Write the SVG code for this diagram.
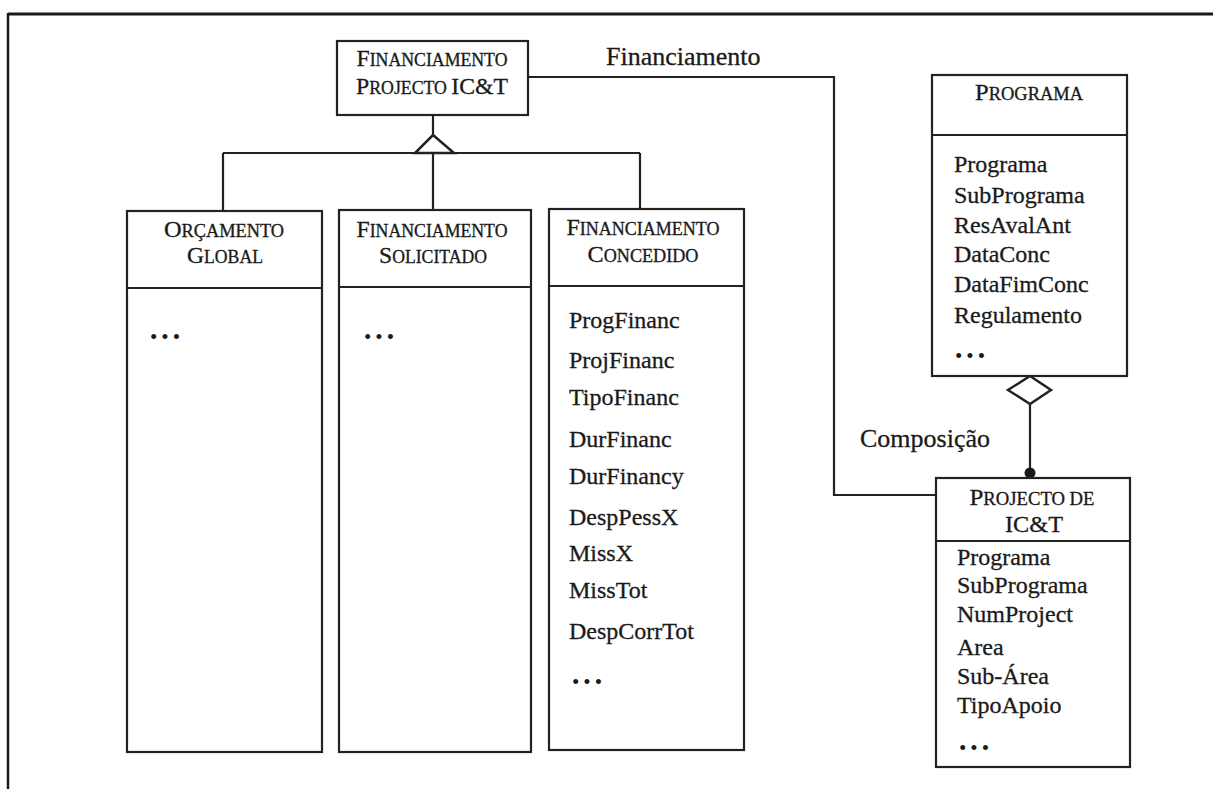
<svg xmlns="http://www.w3.org/2000/svg" width="1213" height="789" viewBox="0 0 1213 789">
<style>
.box{fill:#fff;stroke:#222;stroke-width:2.2}
.ln{fill:none;stroke:#222;stroke-width:2.2}
.t{font-family:"Liberation Serif","Times New Roman",serif;fill:#1a1a1a;stroke:#1a1a1a;stroke-width:0.3}
.attr{font-size:24px}
.lab{font-size:26px}
.big{font-size:24px}
.sm{font-size:18px}
.dots{font-family:"Liberation Serif",serif;font-size:21px;letter-spacing:4px;fill:#1a1a1a}
.ttl{text-anchor:middle}
</style>
<rect width="1213" height="789" fill="#fff"/>
<g id="frame">
<line x1="8" y1="14" x2="1213" y2="14" stroke="#1a1a1a" stroke-width="3"/>
<line x1="8" y1="13" x2="8" y2="789" stroke="#1a1a1a" stroke-width="2.5"/>
</g>
<g id="connectors">
<line class="ln" x1="433" y1="115" x2="433" y2="135"/>
<line class="ln" x1="223" y1="153" x2="640" y2="153"/>
<line class="ln" x1="223" y1="153" x2="223" y2="211"/>
<line class="ln" x1="433" y1="153" x2="433" y2="210"/>
<line class="ln" x1="640" y1="153" x2="640" y2="209"/>
<polygon points="433,135 454,153 415,153" fill="#fff" stroke="#222" stroke-width="2.5" stroke-linejoin="miter"/>
<polyline class="ln" points="528,77 834,77 834,495 936,495"/>
<text class="t lab" x="606" y="65">Financiamento</text>
<line class="ln" x1="1030" y1="404" x2="1030" y2="473"/>
<polygon points="1030,376 1051,390 1030,404 1008,390" fill="#fff" stroke="#222" stroke-width="2.5"/>
<circle cx="1030" cy="473" r="5.5" fill="#1a1a1a"/>
<text class="t lab" x="860" y="447">Composição</text>
</g>
<g id="node-financiamento-projecto">
<rect class="box" x="337" y="41" width="191" height="74"/>
<text class="t ttl" x="432" y="66" textLength="151" lengthAdjust="spacingAndGlyphs"><tspan class="big">F</tspan><tspan class="sm">INANCIAMENTO</tspan></text>
<text class="t ttl" x="432" y="94" textLength="152" lengthAdjust="spacingAndGlyphs"><tspan class="big">P</tspan><tspan class="sm">ROJECTO </tspan><tspan class="big">IC&amp;T</tspan></text>
</g>
<g id="node-orcamento-global">
<rect class="box" x="127" y="211" width="195" height="541"/>
<line class="ln" x1="127" y1="288" x2="322" y2="288"/>
<text class="t ttl" x="224" y="237" textLength="120" lengthAdjust="spacingAndGlyphs"><tspan class="big">O</tspan><tspan class="sm">RÇAMENTO</tspan></text>
<text class="t ttl" x="225" y="263" textLength="76" lengthAdjust="spacingAndGlyphs"><tspan class="big">G</tspan><tspan class="sm">LOBAL</tspan></text>
<text class="dots" x="150" y="344">•••</text>
</g>
<g id="node-financiamento-solicitado">
<rect class="box" x="339" y="210" width="192" height="542"/>
<line class="ln" x1="339" y1="287" x2="531" y2="287"/>
<text class="t ttl" x="432" y="237" textLength="151" lengthAdjust="spacingAndGlyphs"><tspan class="big">F</tspan><tspan class="sm">INANCIAMENTO</tspan></text>
<text class="t ttl" x="433" y="263" textLength="108" lengthAdjust="spacingAndGlyphs"><tspan class="big">S</tspan><tspan class="sm">OLICITADO</tspan></text>
<text class="dots" x="364" y="344">•••</text>
</g>
<g id="node-financiamento-concedido">
<rect class="box" x="549" y="209" width="195" height="541"/>
<line class="ln" x1="549" y1="286" x2="744" y2="286"/>
<text class="t ttl" x="643" y="235" textLength="153" lengthAdjust="spacingAndGlyphs"><tspan class="big">F</tspan><tspan class="sm">INANCIAMENTO</tspan></text>
<text class="t ttl" x="643" y="262" textLength="111" lengthAdjust="spacingAndGlyphs"><tspan class="big">C</tspan><tspan class="sm">ONCEDIDO</tspan></text>
<text class="t attr" x="569" y="328">ProgFinanc</text>
<text class="t attr" x="569" y="368">ProjFinanc</text>
<text class="t attr" x="569" y="405">TipoFinanc</text>
<text class="t attr" x="569" y="447">DurFinanc</text>
<text class="t attr" x="569" y="484">DurFinancy</text>
<text class="t attr" x="569" y="525">DespPessX</text>
<text class="t attr" x="569" y="561">MissX</text>
<text class="t attr" x="569" y="598">MissTot</text>
<text class="t attr" x="569" y="639">DespCorrTot</text>
<text class="dots" x="572" y="689">•••</text>
</g>
<g id="node-programa">
<rect class="box" x="932" y="75" width="195" height="301"/>
<line class="ln" x1="932" y1="135" x2="1127" y2="135"/>
<text class="t ttl" x="1029" y="100" textLength="108" lengthAdjust="spacingAndGlyphs"><tspan class="big">P</tspan><tspan class="sm">ROGRAMA</tspan></text>
<text class="t attr" x="954" y="172">Programa</text>
<text class="t attr" x="954" y="203">SubPrograma</text>
<text class="t attr" x="954" y="233">ResAvalAnt</text>
<text class="t attr" x="954" y="262">DataConc</text>
<text class="t attr" x="954" y="292">DataFimConc</text>
<text class="t attr" x="954" y="323">Regulamento</text>
<text class="dots" x="955" y="363">•••</text>
</g>
<g id="node-projecto">
<rect class="box" x="936" y="478" width="194" height="289"/>
<line class="ln" x1="936" y1="541" x2="1130" y2="541"/>
<text class="t ttl" x="1032" y="505" textLength="125" lengthAdjust="spacingAndGlyphs"><tspan class="big">P</tspan><tspan class="sm">ROJECTO DE</tspan></text>
<text class="t ttl" x="1034" y="532" textLength="58" lengthAdjust="spacingAndGlyphs"><tspan class="big">IC&amp;T</tspan></text>
<text class="t attr" x="957" y="565">Programa</text>
<text class="t attr" x="957" y="593">SubPrograma</text>
<text class="t attr" x="957" y="622">NumProject</text>
<text class="t attr" x="957" y="655">Area</text>
<text class="t attr" x="957" y="684">Sub-Área</text>
<text class="t attr" x="957" y="713">TipoApoio</text>
<text class="dots" x="959" y="755">•••</text>
</g>
</svg>
